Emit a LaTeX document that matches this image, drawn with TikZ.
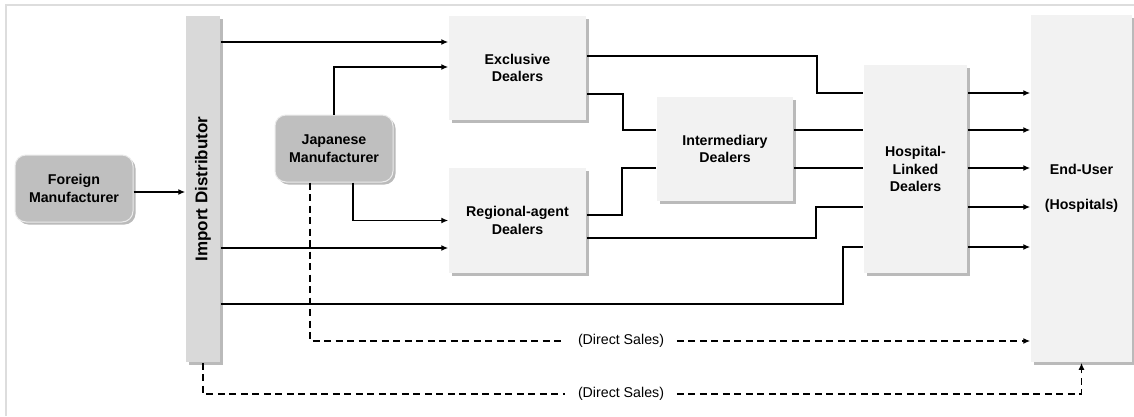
\documentclass[tikz,border=0pt]{standalone}
\usepackage{fontspec}
\setmainfont{Liberation Sans}
\usepackage{tikz}
\usetikzlibrary{arrows.meta, shadows}
\definecolor{light}{RGB}{242, 242, 242}
\definecolor{bar}{RGB}{217, 217, 217}
\definecolor{maker}{RGB}{191, 191, 191}
\definecolor{frame}{RGB}{221, 221, 221}

\begin{document}
\begin{tikzpicture}[x=1pt, y=-1pt, line width=1.5pt,
  >={Latex[length=7pt, width=6pt]},
  every node/.style={font=\bfseries\fontsize{14.2}{17.5}\selectfont, align=center},
  shade/.style={drop shadow={shadow xshift=2.5pt, shadow yshift=-2.5pt,
                             fill=black!45, opacity=.6}},
  dealer/.style={fill=light, shade},
  makerbox/.style={fill=maker, draw=black!8, line width=1pt,
                   rounded corners=11pt, shade,
                   minimum width=118, minimum height=67},
  direct/.style={dash pattern=on 7pt off 4.5pt},
  dslabel/.style={font=\fontsize{14.2}{17}\selectfont, inner xsep=12pt},
]

  \useasboundingbox (0, 0) rectangle (1134, 416);
  \fill[white] (0, 0) rectangle (1134, 416);
  \draw[frame, line width=2pt] (6, 416) -- (6, 5) -- (1134, 5);

  \node[makerbox] (fm) at (74, 188.5) {Foreign\\Manufacturer};
  \node[fill=bar, shade, minimum width=34, minimum height=346] (imp) at (203, 189) {};
  \node[rotate=90, font=\bfseries\fontsize{17}{20}\selectfont] (imptext) at (imp) {Import Distributor};
  \node[makerbox] (jm) at (334, 148.5) {Japanese\\Manufacturer};

  \node[dealer, minimum width=137, minimum height=104] (excl) at (517.5, 68) {Exclusive\\Dealers};
  \node[dealer, minimum width=137, minimum height=105] (reg) at (517.5, 220.5) {Regional-agent\\Dealers};
  \node[dealer, minimum width=136, minimum height=104] (inter) at (725, 149) {Intermediary\\Dealers};
  \node[dealer, minimum width=103, minimum height=208] (hosp) at (915.5, 169) {Hospital-\\Linked\\Dealers};
  \node[dealer, minimum width=101, minimum height=347] (eu) at (1081.5, 188.5) {End-User\\[17.5pt](Hospitals)};

  %
  \draw[->] (fm.east |- 0,192) -- (imp.west |- 0,192);
  \draw[->] (imp.east |- 0,42) -- (excl.west |- 0,42);
  \draw[->] (jm.north) |- (excl.west |- 0,67);
  \draw[->] (jm.south -| 353,0) |- (reg.west);
  \draw[->] (imp.east |- 0,248) -- (reg.west |- 0,248);
  \draw (imp.east |- 0,304) -| (843, 247) -- (hosp.west |- 0,247);

  \draw (excl.east |- 0,56) -| (817, 93) -- (hosp.west |- 0,93);
  \draw (excl.east |- 0,94) -| (623, 130) -- (inter.west |- 0,130);
  \draw (reg.east |- 0,215) -| (622, 168) -- (inter.west |- 0,168);
  \draw (reg.east |- 0,238) -| (816, 207) -- (hosp.west |- 0,207);
  \foreach \y in {130, 168} {
    \draw (inter.east |- 0,\y) -- (hosp.west |- 0,\y);
  }
  \foreach \y in {93, 130, 168, 207, 247} {
    \draw[->] (hosp.east |- 0,\y) -- (eu.west |- 0,\y);
  }

  %
  \node[dslabel] (ds1) at (621, 341) {(Direct Sales)};
  \draw[direct] (jm.south -| 310,0) |- (ds1);
  \draw[direct, ->] (ds1) -- (eu.west |- ds1);

  \node[dslabel] (ds2) at (621, 394) {(Direct Sales)};
  \draw[direct] (imp.south) |- (ds2);
  \draw[direct, ->] (ds2) -| (eu.south);

\end{tikzpicture}
\end{document}
